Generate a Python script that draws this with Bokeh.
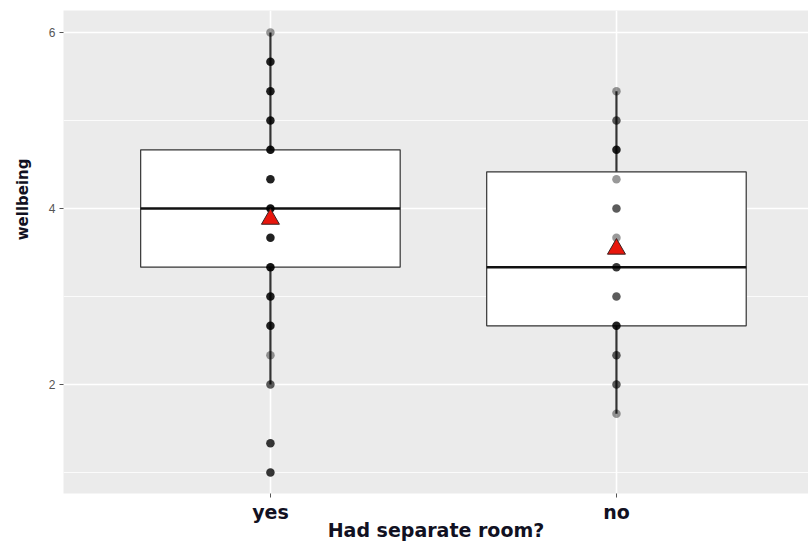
from bokeh.plotting import figure
from bokeh.models import FixedTicker, Title
from bokeh.embed import file_html
from bokeh.resources import INLINE

# ---- data ----
groups = ["yes", "no"]
group_pos = [1, 2]
q_lower = [2.0, 1.667]
q1 = [3.333, 2.667]
median = [4.0, 3.333]
q3 = [4.667, 4.417]
q_upper = [6.0, 5.333]
means = [3.88, 3.54]

yes_values = [6.0, 5.667, 5.333, 5.0, 4.667, 4.333, 4.0, 3.667, 3.333, 3.0, 2.667, 2.333, 2.0, 1.333, 1.0]
yes_counts = [1, 4, 4, 4, 5, 4, 5, 4, 5, 4, 4, 1, 2, 3, 3]
no_values = [5.333, 5.0, 4.667, 4.333, 4.0, 3.667, 3.333, 3.0, 2.667, 2.333, 2.0, 1.667]
no_counts = [1, 2, 4, 1, 2, 1, 3, 2, 4, 2, 2, 1]

y_ticks = [2, 4, 6]
y_minor = [1, 3, 5]

x_title = "Had separate room?"
y_title = "wellbeing"

TITLE_FONT = "DejaVu Sans"

# ---- figure ----
p = figure(width=808, height=543, x_range=(0.402, 2.555), y_range=(0.761, 6.25),
           output_backend="svg", toolbar_location=None,
           min_border_left=63, min_border_right=0, min_border_top=10, min_border_bottom=50)
p.background_fill_color = "#EBEBEB"
p.border_fill_color = "white"
p.outline_line_color = None

p.xaxis.ticker = FixedTicker(ticks=group_pos)
p.xaxis.major_label_overrides = {pos: g for pos, g in zip(group_pos, groups)}
p.yaxis.ticker = FixedTicker(ticks=y_ticks, minor_ticks=y_minor)
p.yaxis.major_label_overrides = {t: str(t) for t in y_ticks}

for ax in (p.xaxis, p.yaxis):
    ax.axis_line_color = None
    ax.major_tick_in = 0
    ax.major_tick_out = 4
    ax.major_tick_line_color = "#555555"
    ax.minor_tick_line_color = None

p.xaxis.major_label_text_font = TITLE_FONT
p.xaxis.major_label_text_font_style = "bold"
p.xaxis.major_label_text_font_size = "19px"
p.xaxis.major_label_text_color = "#111122"
p.xaxis.major_label_standoff = 3

p.xaxis.axis_label = x_title
p.xaxis.axis_label_text_font = TITLE_FONT
p.xaxis.axis_label_text_font_style = "bold"
p.xaxis.axis_label_text_font_size = "19px"
p.xaxis.axis_label_text_color = "#111122"
p.xaxis.axis_label_standoff = -7

p.yaxis.major_label_text_font = "Liberation Sans"
p.yaxis.major_label_text_font_size = "12px"
p.yaxis.major_label_text_color = "#555555"
p.yaxis.major_label_standoff = 4

p.xgrid.grid_line_color = "white"
p.xgrid.grid_line_width = 1.6
p.ygrid.grid_line_color = "white"
p.ygrid.grid_line_width = 1.6
p.ygrid.minor_grid_line_color = "white"
p.ygrid.minor_grid_line_width = 0.8

# ---- y title as a left-side title, placed off-centre like the reference ----
p.add_layout(Title(text=y_title, align="right", offset=148, vertical_align="top", standoff=24,
                   text_font=TITLE_FONT, text_font_style="bold", text_font_size="15px",
                   text_color="#111122"), "left")

# ---- boxes ----
half = 0.375
p.vbar(x=group_pos, width=2 * half, bottom=q1, top=q3,
       fill_color="white", line_color="#333333", line_width=1.2)
p.segment(x0=group_pos, x1=group_pos, y0=q_lower, y1=q1, line_color="#333333", line_width=2.2)
p.segment(x0=group_pos, x1=group_pos, y0=q3, y1=q_upper, line_color="#333333", line_width=2.2)
p.segment(x0=[g - half for g in group_pos], x1=[g + half for g in group_pos],
          y0=median, y1=median, line_color="#111111", line_width=2.5)

# ---- points (opacity stacks with number of overlapping observations) ----
a = 0.4
for pos, vals, cnts in ((group_pos[0], yes_values, yes_counts), (group_pos[1], no_values, no_counts)):
    alphas = [1 - (1 - a) ** c for c in cnts]
    p.scatter(x=[pos] * len(vals), y=vals, size=8.5, fill_color="black", line_color=None,
              fill_alpha=alphas)

# ---- means ----
p.scatter(x=group_pos, y=means, marker="triangle", size=18,
          fill_color="#E8160C", line_color="#3a2020", line_width=1)

open("out.html", "w").write(file_html(p, INLINE))
